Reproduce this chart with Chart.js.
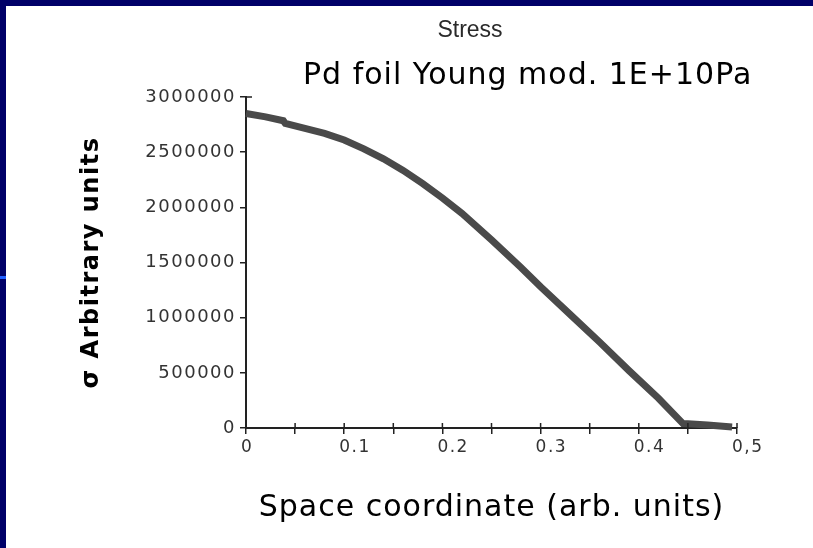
<!DOCTYPE html>
<html>
<head>
<meta charset="utf-8">
<title>Stress</title>
<script src="https://cdn.jsdelivr.net/npm/chart.js@4.4.0/dist/chart.umd.min.js"></script>
<style>
  html, body { margin: 0; padding: 0; background: #fff; }
  #frame { position: relative; width: 813px; height: 548px; overflow: hidden; background: #fff; }
  #topBar { position: absolute; left: 0; top: 0; width: 813px; height: 6px; background: #000068; }
  #leftBar { position: absolute; left: 0; top: 0; width: 6px; height: 548px; background: #000068; }
  #mark { position: absolute; left: 0; top: 276px; width: 6px; height: 3px; background: #1f5fff; }
  canvas { position: absolute; left: 0; top: 0; }
</style>
</head>
<body>
<div id="frame">
  <canvas id="stressChart" width="813" height="548"></canvas>
  <div id="topBar"></div>
  <div id="leftBar"></div>
  <div id="mark"></div>
</div>
<script>
// datos
const chartTitle = "Stress";
const noteText = "Pd foil Young mod. 1E+10Pa";
const xTitle = "Space coordinate (arb. units)";
const yTitle = "σ Arbitrary units";

const xValues = [0, 0.02, 0.038, 0.04, 0.06, 0.08, 0.1, 0.12, 0.14, 0.16, 0.18, 0.2, 0.22, 0.25,
                 0.28, 0.3, 0.33, 0.36, 0.39, 0.42, 0.445, 0.45, 0.47, 0.495];
const stressValues = [2850000, 2820000, 2785000, 2760000, 2715000, 2670000, 2610000, 2530000,
                      2440000, 2335000, 2215000, 2085000, 1945000, 1705000, 1455000, 1280000,
                      1030000, 780000, 520000, 270000, 40000, 38000, 28000, 10000];

const xTickLabels = { 0: "0", 10: "0.1", 20: "0.2", 30: "0.3", 40: "0.4", 50: "0,5" };
const yTickStep = 500000;
const yMax = 3000000;

const axisColor = "#222222";

// espaciado de letras para las etiquetas de los ejes
const spacing = {
    id: "spacing",
    beforeDraw(chart) { chart.ctx.letterSpacing = "1.5px"; },
    afterDraw(chart) { chart.ctx.letterSpacing = "0px"; }
};

// marcas interiores del eje x, tope del eje y y textos sueltos
const extras = {
    id: "extras",
    afterDraw(chart) {
        const ctx = chart.ctx;
        const x = chart.scales.x;
        const y = chart.scales.y;
        ctx.save();
        ctx.strokeStyle = axisColor;
        ctx.lineWidth = 1.5;
        ctx.beginPath();
        x.ticks.forEach(t => {
            const px = x.getPixelForValue(t.value);
            if (px <= x.left + 1) return;
            ctx.moveTo(px, y.bottom);
            ctx.lineTo(px, y.bottom - 5);
        });
        const topY = y.getPixelForValue(yMax);
        ctx.moveTo(x.left, topY);
        ctx.lineTo(x.left + 6, topY);
        ctx.stroke();

        ctx.letterSpacing = "0px";
        ctx.fillStyle = "#2a2a2a";
        ctx.font = "23px 'Liberation Sans'";
        ctx.textAlign = "center";
        ctx.textBaseline = "middle";
        ctx.fillText(chartTitle, 470, 31);

        ctx.fillStyle = "#000";
        ctx.font = "30px 'DejaVu Sans'";
        ctx.letterSpacing = "1px";
        ctx.textAlign = "left";
        ctx.fillText(noteText, 303, 76);

        ctx.textAlign = "center";
        ctx.fillText(xTitle, (x.left + x.right) / 2, 508);

        ctx.font = "bold 24px 'DejaVu Sans'";
        ctx.letterSpacing = "1.5px";
        ctx.translate(92, (y.top + y.bottom) / 2);
        ctx.rotate(-Math.PI / 2);
        ctx.fillText(yTitle, 0, 0);
        ctx.restore();
    }
};

const ctx = document.getElementById("stressChart").getContext("2d");
new Chart(ctx, {
    type: "line",
    data: {
        datasets: [{
            data: xValues.map((v, i) => ({ x: v, y: stressValues[i] })),
            borderColor: "#4a4a4a",
            borderWidth: 7,
            pointRadius: 0,
            tension: 0,
            clip: false
        }]
    },
    options: {
        responsive: false,
        animation: false,
        layout: { padding: { left: 0, top: 97, right: 76, bottom: 0 } },
        plugins: {
            legend: { display: false },
            tooltip: { enabled: false }
        },
        scales: {
            x: {
                type: "linear",
                min: 0,
                max: 0.5,
                afterFit: s => { s.height = 120; },
                border: { display: true, color: axisColor, width: 2 },
                grid: { drawOnChartArea: false, drawTicks: true, tickLength: 6, color: axisColor, lineWidth: 1.5 },
                ticks: {
                    stepSize: 0.05,
                    align: "start",
                    labelOffset: -5,
                    padding: 3,
                    maxRotation: 0,
                    autoSkip: false,
                    color: "#333",
                    font: { family: "'DejaVu Sans'", size: 17 },
                    callback: function(value) {
                        const k = Math.round(value * 100);
                        return xTickLabels[k] !== undefined ? xTickLabels[k] : "";
                    }
                }
            },
            y: {
                min: 0,
                max: yMax,
                afterFit: s => { s.width = 246; },
                border: { display: true, color: axisColor, width: 2 },
                grid: { drawOnChartArea: false, drawTicks: true, tickLength: 6, color: axisColor, lineWidth: 1.5 },
                ticks: {
                    stepSize: yTickStep,
                    padding: 4,
                    color: "#333",
                    font: { family: "'DejaVu Sans'", size: 18 },
                    callback: value => String(value)
                }
            }
        }
    },
    plugins: [spacing, extras]
});
</script>
</body>
</html>
